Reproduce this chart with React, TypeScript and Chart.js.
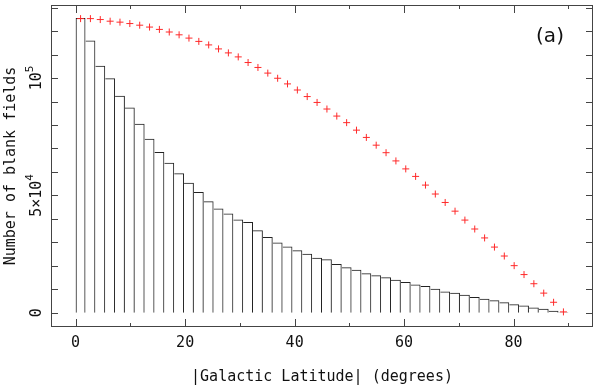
import React, { useEffect, useRef } from 'react';
import { Chart, registerables } from 'chart.js';

Chart.register(...registerables);

// Bin centres (degrees) of the |b| histogram
const binCenters = [
  0.9, 2.7, 4.5, 6.3, 8.1, 9.9, 11.7, 13.5, 15.3, 17.1,
  18.9, 20.7, 22.5, 24.3, 26.1, 27.9, 29.7, 31.5, 33.3, 35.1,
  36.9, 38.7, 40.5, 42.3, 44.1, 45.9, 47.7, 49.5, 51.3, 53.1,
  54.9, 56.7, 58.5, 60.3, 62.1, 63.9, 65.7, 67.5, 69.3, 71.1,
  72.9, 74.7, 76.5, 78.3, 80.1, 81.9, 83.7, 85.5, 87.3, 89.1,
];

// Histogram: number of blank fields per bin
const blankFieldCounts = [
  125600, 116000, 105200, 99900, 92400, 87500, 80500, 74100, 68500, 63900,
  59500, 55400, 51500, 47500, 44400, 42300, 39800, 38700, 35200, 32300,
  30000, 28300, 26700, 25200, 23500, 22800, 20800, 19400, 18300, 16900,
  16000, 15200, 14100, 13100, 12100, 11400, 10300, 9100, 8600, 7700,
  6750, 6050, 5350, 4500, 3650, 3100, 2250, 1700, 850, 300,
];

// Red crosses
const crossValues = [
  125300, 125300, 124900, 124200, 123800, 123200, 122500, 121700, 120700, 119600,
  118400, 117000, 115600, 114100, 112400, 110700, 109000, 106600, 104500, 102100,
  99900, 97500, 94900, 92100, 89600, 86800, 83800, 81000, 77800, 74700,
  71400, 68200, 64700, 61300, 58100, 54400, 50600, 47000, 43300, 39500,
  35700, 31900, 28000, 24200, 20100, 16300, 12400, 8400, 4500, 400,
];

// Axis ticks and labels
const xMajorTicks = [0, 20, 40, 60, 80];
const xTickLabels = ['0', '20', '40', '60', '80'];
const xMinorTicks = [10, 30, 50, 70, 90];
const yMinorTicks = [10000, 20000, 30000, 40000, 60000, 70000, 80000, 90000, 110000, 120000, 130000];
const yMajorTicks = [0, 50000, 100000];
const yTickBase = ['0', '5×10', '10'];
const yTickExp = ['', '4', '5'];
const xTitle = '|Galactic Latitude| (degrees)';
const yTitle = 'Number of blank fields';
const panelLabel = '(a)';

const FONT = '"DejaVu Sans Mono", monospace';

const framePlugin = {
  id: 'frameAxes',
  afterDatasetsDraw(chart: any) {
    const ctx: CanvasRenderingContext2D = chart.ctx;
    const { left, right, top, bottom } = chart.chartArea;
    const xs = chart.scales.x;
    const ys = chart.scales.y;
    ctx.save();
    ctx.strokeStyle = '#444';
    ctx.lineWidth = 1;
    const line = (x1: number, y1: number, x2: number, y2: number) => {
      ctx.beginPath();
      ctx.moveTo(x1, y1);
      ctx.lineTo(x2, y2);
      ctx.stroke();
    };
    ctx.strokeRect(left + 0.5, top + 0.5, right - left - 1, bottom - top - 1);
    const xt = (v: number, len: number) => {
      const px = Math.round(xs.getPixelForValue(v)) + 0.5;
      line(px, bottom, px, bottom - len);
      line(px, top, px, top + len);
    };
    xMajorTicks.forEach((v) => xt(v, 8));
    xMinorTicks.forEach((v) => xt(v, 4));
    const yt = (v: number, len: number) => {
      const py = Math.round(ys.getPixelForValue(v)) + 0.5;
      line(left, py, left + len, py);
      line(right, py, right - len, py);
    };
    yMajorTicks.forEach((v) => yt(v, 7));
    yMinorTicks.forEach((v) => yt(v, 7));

    ctx.fillStyle = '#111';
    ctx.font = `15px ${FONT}`;
    ctx.textAlign = 'center';
    ctx.textBaseline = 'middle';
    xMajorTicks.forEach((v, i) => {
      ctx.fillText(xTickLabels[i], xs.getPixelForValue(v), 343);
    });
    ctx.fillText(xTitle, (left + right) / 2, 377);

    // y tick labels (rotated, with superscripts)
    yMajorTicks.forEach((v, i) => {
      const py = ys.getPixelForValue(v);
      ctx.save();
      ctx.translate(37, py);
      ctx.rotate(-Math.PI / 2);
      ctx.font = `15px ${FONT}`;
      const wb = ctx.measureText(yTickBase[i]).width;
      ctx.font = `11px ${FONT}`;
      const we = yTickExp[i] ? ctx.measureText(yTickExp[i]).width : 0;
      const start = -(wb + we) / 2;
      ctx.textAlign = 'left';
      ctx.font = `15px ${FONT}`;
      ctx.fillText(yTickBase[i], start, 0);
      if (yTickExp[i]) {
        ctx.font = `11px ${FONT}`;
        ctx.fillText(yTickExp[i], start + wb, -7);
      }
      ctx.restore();
    });

    ctx.save();
    ctx.translate(11, (top + bottom) / 2);
    ctx.rotate(-Math.PI / 2);
    ctx.font = `15px ${FONT}`;
    ctx.textAlign = 'center';
    ctx.fillText(yTitle, 0, 0);
    ctx.restore();

    ctx.font = '20px "DejaVu Sans", sans-serif';
    ctx.textAlign = 'center';
    ctx.fillText(panelLabel, 550, 37);
    ctx.restore();
  },
};

export default function App() {
  const ref = useRef<HTMLCanvasElement | null>(null);
  useEffect(() => {
    if (!ref.current) return;
    const chart = new Chart(ref.current, {
      type: 'bar',
      data: {
        datasets: [
          {
            type: 'scatter',
            data: binCenters.map((x, i) => ({ x, y: crossValues[i] })),
            pointStyle: 'cross',
            pointRadius: 3.5,
            pointBorderWidth: 1,
            borderColor: '#ff2a2a',
            backgroundColor: '#ff2a2a',
            showLine: false,
            order: 0,
          } as any,
          {
            type: 'bar',
            data: binCenters.map((x, i) => ({ x, y: blankFieldCounts[i] })),
            backgroundColor: 'rgba(0,0,0,0)',
            borderColor: '#222',
            borderWidth: (c: any) => ({ top: 1, right: 1, bottom: 0, left: c.dataIndex === 0 ? 1 : 0 }),
            borderSkipped: false,
            barPercentage: 1,
            categoryPercentage: 1,
            inflateAmount: 0,
            order: 1,
          } as any,
        ],
      },
      options: {
        animation: false,
        responsive: false,
        maintainAspectRatio: false,
        layout: { padding: { left: 51, right: 3, top: 2, bottom: 61 } },
        plugins: { legend: { display: false }, tooltip: { enabled: false } },
        scales: {
          x: { type: 'linear', min: -4.5, max: 94.5, offset: false, display: false },
          y: { type: 'linear', min: -6030, max: 131100, display: false },
        },
      },
      plugins: [framePlugin],
    });
    return () => chart.destroy();
  }, []);
  return (
    <div style={{ position: 'absolute', left: 0, top: 0, width: 598, height: 388, background: '#fff' }}>
      <canvas ref={ref} width={598} height={388} />
    </div>
  );
}
